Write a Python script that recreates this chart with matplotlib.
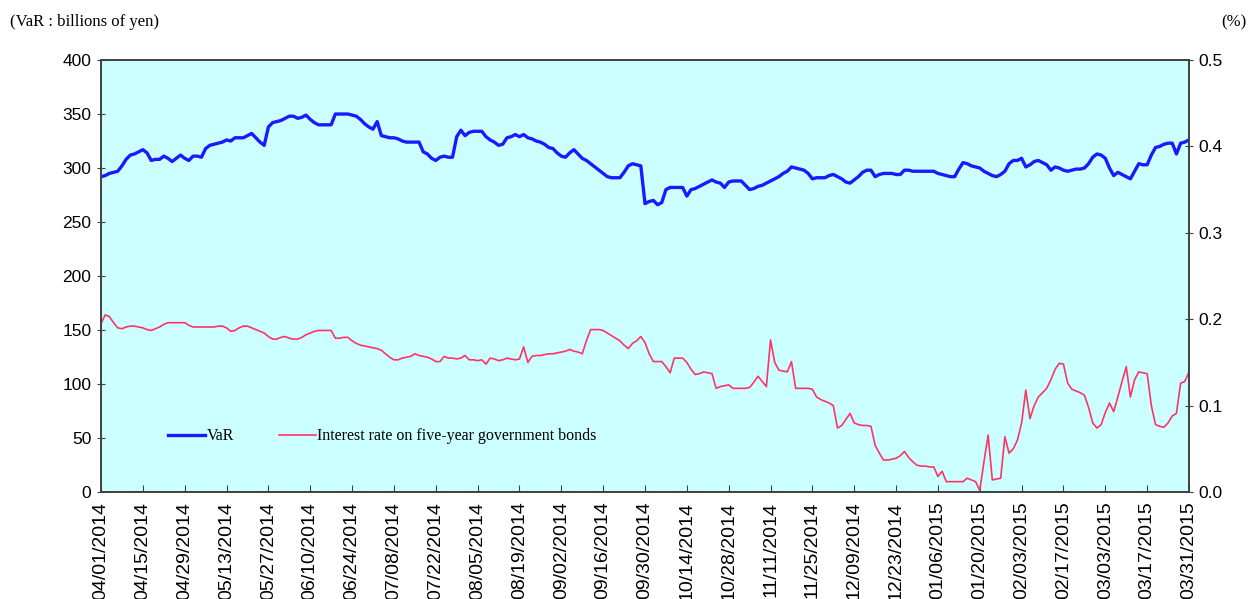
import pandas as pd
import matplotlib.pyplot as plt
import matplotlib.ticker as mticker

# Business days, 04/01/2014 - 03/31/2015
dates = pd.bdate_range('2014-04-01', '2015-03-31')

# VaR (billions of yen), 10 business days per row
var_values = [
    292, 293, 295, 296, 297, 302, 308, 312, 313, 315,
    317, 314, 307, 308, 308, 311, 309, 306, 309, 312,
    309, 307, 311, 311, 310, 318, 321, 322, 323, 324,
    326, 325, 328, 328, 328, 330, 332, 328, 324, 321,
    338, 342, 343, 344, 346, 348, 348, 346, 347, 349,
    345, 342, 340, 340, 340, 340, 350, 350, 350, 350,
    349, 348, 345, 341, 338, 336, 343, 330, 329, 328,
    328, 327, 325, 324, 324, 324, 324, 315, 313, 309,
    307, 310, 311, 310, 310, 329, 335, 330, 333, 334,
    334, 334, 329, 326, 324, 321, 322, 328, 329, 331,
    329, 331, 328, 327, 325, 324, 322, 319, 318, 314,
    311, 310, 314, 317, 313, 309, 307, 304, 301, 298,
    295, 292, 291, 291, 291, 296, 302, 304, 303, 302,
    267, 269, 270, 266, 268, 280, 282, 282, 282, 282,
    274, 280, 281, 283, 285, 287, 289, 287, 286, 282,
    287, 288, 288, 288, 284, 280, 281, 283, 284, 286,
    288, 290, 292, 295, 297, 301, 300, 299, 298, 295,
    290, 291, 291, 291, 293, 294, 292, 290, 287, 286,
    289, 292, 296, 298, 298, 292, 294, 295, 295, 295,
    294, 294, 298, 298, 297, 297, 297, 297, 297, 297,
    295, 294, 293, 292, 292, 299, 305, 304, 302, 301,
    300, 297, 295, 293, 292, 294, 297, 304, 307, 307,
    309, 301, 303, 306, 307, 305, 303, 298, 301, 300,
    298, 297, 298, 299, 299, 300, 304, 310, 313, 312,
    309, 300, 293, 296, 294, 292, 290, 297, 304, 303,
    303, 312, 319, 320, 322, 323, 323, 313, 323, 324,
    326,
]

# Interest rate on five-year government bonds (%)
rate_values = [
    0.195, 0.205, 0.203, 0.196, 0.190, 0.189, 0.191, 0.192, 0.192, 0.191,
    0.190, 0.188, 0.187, 0.189, 0.191, 0.194, 0.196, 0.196, 0.196, 0.196,
    0.196, 0.193, 0.191, 0.191, 0.191, 0.191, 0.191, 0.191, 0.192, 0.192,
    0.190, 0.186, 0.187, 0.190, 0.192, 0.192, 0.190, 0.188, 0.186, 0.184,
    0.180, 0.177, 0.177, 0.179, 0.180, 0.178, 0.177, 0.177, 0.179, 0.182,
    0.184, 0.186, 0.187, 0.187, 0.187, 0.187, 0.178, 0.178, 0.179, 0.179,
    0.175, 0.172, 0.170, 0.169, 0.168, 0.167, 0.166, 0.164, 0.160, 0.156,
    0.153, 0.153, 0.155, 0.156, 0.157, 0.160, 0.158, 0.157, 0.156, 0.154,
    0.151, 0.151, 0.157, 0.155, 0.155, 0.154, 0.155, 0.158, 0.153, 0.153,
    0.152, 0.153, 0.148, 0.155, 0.154, 0.152, 0.153, 0.155, 0.154, 0.153,
    0.154, 0.168, 0.150, 0.157, 0.158, 0.158, 0.159, 0.160, 0.160, 0.161,
    0.162, 0.163, 0.165, 0.163, 0.162, 0.160, 0.175, 0.188, 0.188, 0.188,
    0.187, 0.184, 0.181, 0.178, 0.175, 0.170, 0.166, 0.172, 0.175, 0.180,
    0.173, 0.160, 0.151, 0.151, 0.151, 0.145, 0.138, 0.155, 0.155, 0.155,
    0.150, 0.142, 0.136, 0.137, 0.139, 0.138, 0.137, 0.120, 0.122, 0.123,
    0.124, 0.120, 0.120, 0.120, 0.120, 0.121, 0.127, 0.134, 0.128, 0.122,
    0.176, 0.150, 0.141, 0.140, 0.139, 0.151, 0.120, 0.120, 0.120, 0.120,
    0.119, 0.110, 0.107, 0.105, 0.103, 0.100, 0.074, 0.077, 0.084, 0.091,
    0.080, 0.078, 0.077, 0.077, 0.076, 0.054, 0.045, 0.037, 0.037, 0.038,
    0.039, 0.042, 0.047, 0.040, 0.035, 0.031, 0.030, 0.030, 0.029, 0.029,
    0.018, 0.024, 0.012, 0.012, 0.012, 0.012, 0.012, 0.016, 0.014, 0.012,
    0.002, 0.035, 0.066, 0.014, 0.015, 0.016, 0.064, 0.045, 0.050, 0.060,
    0.080, 0.118, 0.085, 0.100, 0.110, 0.115, 0.120, 0.130, 0.142, 0.149,
    0.148, 0.126, 0.119, 0.117, 0.115, 0.112, 0.098, 0.080, 0.074, 0.078,
    0.092, 0.103, 0.093, 0.110, 0.128, 0.145, 0.110, 0.130, 0.139, 0.138,
    0.137, 0.100, 0.078, 0.076, 0.075, 0.080, 0.088, 0.091, 0.126, 0.128,
    0.139,
]

tick_step = 10  # label every 10 business days
x = list(range(len(dates)))
tick_pos = x[::tick_step]
tick_labels = [d.strftime('%m/%d/%Y') for d in dates[::tick_step]]

plt.rcParams['font.family'] = ['Liberation Sans', 'DejaVu Sans']

fig = plt.figure(figsize=(12.5, 5.99), dpi=100)
ax = fig.add_axes([0.0808, 0.1786, 0.8704, 0.7212])
ax.set_facecolor('#ccffff')
ax2 = ax.twinx()

l1, = ax.plot(x, var_values, color='#1a1aff', linewidth=2.4, label='VaR')
l2, = ax2.plot(x, rate_values, color='#ff3366', linewidth=1.2,
               label='Interest rate on five-year government bonds')

ax.set_xlim(0, len(x) - 1)
ax.set_ylim(0, 400)
ax.set_yticks(range(0, 401, 50))
ax2.set_ylim(0, 0.5)
ax2.set_yticks([0, 0.1, 0.2, 0.3, 0.4, 0.5])
ax2.yaxis.set_major_formatter(mticker.FormatStrFormatter('%.1f'))

ax.set_xticks(tick_pos)
ax.set_xticklabels(tick_labels, rotation=90, fontsize=14)
ax.tick_params(axis='x', direction='in', length=5, pad=7, color='#404040')
ax.tick_params(axis='y', direction='inout', length=6, labelsize=12.5, pad=4,
               color='#404040')
ax2.tick_params(axis='y', direction='inout', length=6, labelsize=12.5, pad=4,
                color='#404040')

for a in (ax, ax2):
    for s in a.spines.values():
        s.set_color('#404040')
        s.set_linewidth(1.2)

ax2.legend(handles=[l1, l2], loc='lower left', bbox_to_anchor=(0.062, 0.11),
           ncol=2, frameon=False, borderaxespad=0, borderpad=0,
           handlelength=2.3, handletextpad=0.1, columnspacing=2.8,
           prop={'family': 'Liberation Serif', 'size': 11.5})

fig.text(0.008, 0.963, '(VaR : billions of yen)', family='Liberation Serif',
         fontsize=12, va='center', ha='left')
fig.text(0.997, 0.963, '(%)', family='Liberation Serif', fontsize=12,
         va='center', ha='right')

fig.savefig('out.png', dpi=100)
